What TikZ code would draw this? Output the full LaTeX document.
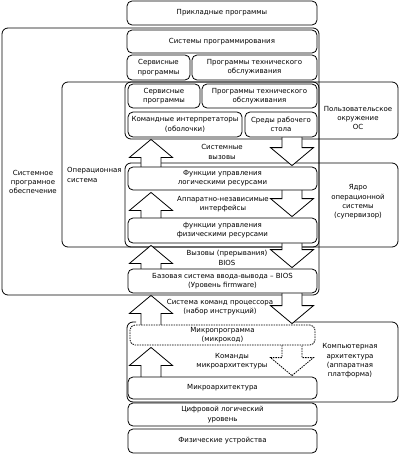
\documentclass[tikz,border=0pt]{standalone}
\usepackage{fontspec}
\setmainfont{DejaVu Sans}
\usetikzlibrary{calc}
\usetikzlibrary{backgrounds}

\newcommand{\flechasube}[3][]{%
  \draw[flecha,#1] ($(#2.south -| izq)+(0,2)$) -- ++(21.5,18) -- ++(-11.5,0)
    -- ($(#3.north -| izq)+(10,3)$) -- ++(-20,0)
    |- ($(#2.south -| izq)+(-21.5,20)$) -- cycle;}
\newcommand{\flechabaja}[3][]{%
  \draw[flecha,#1] ($(#3.north -| der)+(0,-1)$) -- ++(21.5,-18) -- ++(-11.5,0)
    -- ($(#2.south -| der)+(10,-3)$) -- ++(-20,0)
    |- ($(#3.north -| der)+(-21.5,-19)$) -- cycle;}

\begin{document}
\begin{tikzpicture}[x=1pt, y=-1pt,
    every node/.style={font=\fontsize{7}{9.3}\selectfont, align=center, inner sep=0pt},
    caja/.style={draw, fill=white, rounded corners=5pt, line width=0.8pt},
    marco/.style={draw, rounded corners=6pt, line width=0.8pt},
    flecha/.style={draw, fill=white, line width=0.8pt, line join=miter},
    punteado/.style={dash pattern=on 1.5pt off 1pt}]
  \useasboundingbox (0,0) rectangle (401,455);
  \coordinate (izq) at (151,0);
  \coordinate (der) at (292,0);

  % Nodos
  \node[caja, minimum width=190, minimum height=24] (prikl) at (222,13) {Прикладные программы};
  \node[caja, minimum width=190, minimum height=23] (sistprog) at (222,41.5) {Системы программирования};
  \node[caja, minimum width=63, minimum height=25] (serv1) at (158.5,67.5) {Сервисные\\программы};
  \node[caja, minimum width=125, minimum height=25] (tech1) at (254.5,67.5) {Программы технического\\обслуживания};
  \node[caja, minimum width=72, minimum height=24] (serv2) at (164,96) {Сервисные\\программы};
  \node[caja, minimum width=115, minimum height=24] (tech2) at (259.5,96) {Программы технического\\обслуживания};
  \node[caja, minimum width=114, minimum height=25] (komand) at (185,124.5) {Командные интерпретаторы\\(оболочки)};
  \node[caja, minimum width=72, minimum height=25] (sredy) at (281,124.5) {Среды рабочего\\стола};
  \node[caja, minimum width=189, minimum height=23] (logica) at (222.5,178.5) {Функции управления\\логическими ресурсами};
  \node[caja, minimum width=189, minimum height=25] (fizica) at (222.5,230.5) {функции управления\\физическими ресурсами};
  \node[caja, minimum width=189, minimum height=24] (bios) at (222.5,281) {Базовая система ввода-вывода – BIOS\\(Уровень firmware)};
  \node[caja, punteado, minimum width=185, minimum height=20] (mikroprog) at (222.5,335) {Микропрограмма\\(микрокод)};
  \node[caja, minimum width=189, minimum height=22] (mikroarch) at (222.5,388) {Микроархитектура};
  \node[caja, minimum width=189, minimum height=23] (cifr) at (222.5,414.5) {Цифровой логический\\уровень};
  \node[caja, minimum width=189, minimum height=24] (fizdev) at (222.5,441) {Физические устройства};

  % Etiquetas
  \node (sistpo) at (33,182) {Системное\\програмное\\обеспечение};
  \node[anchor=west, align=left] (os) at (67,175) {Операционная\\система};
  \node (polz) at (358,118) {Пользовательское\\окружение\\ОС};
  \node (yadro) at (358,202) {Ядро\\операционной\\системы\\(супервизор)};
  \node (arch) at (350,361) {Компьютерная\\архитектура\\(аппаратная\\платформа)};
  \node (vyzovy) at (222,152) {Системные\\вызовы};
  \node (interf) at (223,204.5) {Аппаратно-независимые\\интерфейсы};
  \node (biosvyz) at (227,258) {Вызовы (прерывания)\\BIOS};
  \node (komproc) at (220,307) {Система команд процессора\\(набор инструкций)};
  \node (kommikro) at (232,361.5) {Команды\\микроархитектуры};

  \begin{scope}[on background layer]
    % Marcos
    \draw[marco] (2,28) rectangle (319,295);
    \draw[marco] (62,82) rectangle (319,247);
    \draw[marco] (125,82) rectangle (398,139);
    \draw[marco] (125,163) rectangle (398,247);
    \draw[marco] (293,322) -- (398,322) -- (398,402) -- (127,402) -- (127,322) -- (136,322);

    % Flechas
    \flechasube{komand}{logica}
    \flechabaja{sredy}{logica}
    \flechasube{logica}{fizica}
    \flechabaja{logica}{fizica}
    \flechasube{fizica}{bios}
    \flechabaja{fizica}{bios}
    \flechasube{bios}{mikroprog}
    \flechabaja{bios}{mikroprog}
    \flechasube{mikroprog}{mikroarch}
    \flechabaja[punteado]{mikroprog}{mikroarch}
  \end{scope}
\end{tikzpicture}
\end{document}
